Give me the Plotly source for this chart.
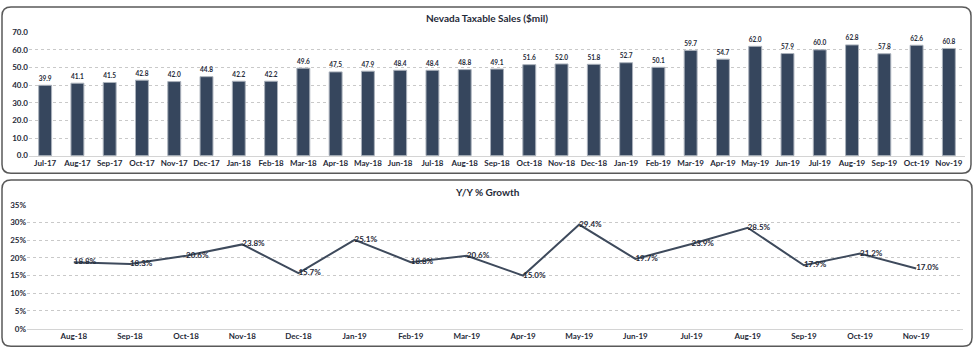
import plotly.graph_objects as go

months = ["Jul-17","Aug-17","Sep-17","Oct-17","Nov-17","Dec-17","Jan-18","Feb-18","Mar-18","Apr-18",
          "May-18","Jun-18","Jul-18","Aug-18","Sep-18","Oct-18","Nov-18","Dec-18","Jan-19","Feb-19",
          "Mar-19","Apr-19","May-19","Jun-19","Jul-19","Aug-19","Sep-19","Oct-19","Nov-19"]
sales = [39.9,41.1,41.5,42.8,42.0,44.8,42.2,42.2,49.6,47.5,47.9,48.4,48.4,48.8,49.1,51.6,52.0,51.8,
         52.7,50.1,59.7,54.7,62.0,57.9,60.0,62.8,57.8,62.6,60.8]

growth_months = ["Aug-18","Sep-18","Oct-18","Nov-18","Dec-18","Jan-19","Feb-19","Mar-19","Apr-19",
                 "May-19","Jun-19","Jul-19","Aug-19","Sep-19","Oct-19","Nov-19"]
growth = [18.8,18.3,20.6,23.8,15.7,25.1,18.8,20.6,15.0,29.4,19.7,23.9,28.5,17.9,21.2,17.0]

sales_ticks = [0,10,20,30,40,50,60,70]
growth_ticks = [0,5,10,15,20,25,30,35]

W, H = 975, 358
FONT = "Lato"
TXT = "#1f2a38"
BAR = "#36465d"
GRID = "#c9c9c9"

fig = go.Figure()
fig.add_trace(go.Bar(
    x=months, y=sales, xaxis="x", yaxis="y",
    marker=dict(color=BAR, line=dict(color="#aab1bb", width=1)),
    text=[f"{v:.1f}" for v in sales], textposition="outside", cliponaxis=False,
    textfont=dict(family=FONT, size=9, color=TXT, weight="bold"),
    hoverinfo="skip", showlegend=False,
))
fig.add_trace(go.Scatter(
    x=growth_months, y=growth, xaxis="x2", yaxis="y2", mode="lines+text",
    line=dict(color="#3e4a5c", width=2),
    text=[f"{v:.1f}%" for v in growth], textposition="middle right",
    textfont=dict(family=FONT, size=8, color=TXT, weight="bold"), cliponaxis=False,
    hoverinfo="skip", showlegend=False,
))

def px(x): return x / W
def py(y): return 1 - y / H

axfont = dict(family=FONT, size=8, color=TXT, weight="bold")
fig.update_layout(
    width=W, height=H, margin=dict(l=0, r=0, t=0, b=0),
    paper_bgcolor="white", plot_bgcolor="white",
    bargap=0.6,
    xaxis=dict(domain=[px(29), px(965)], anchor="y", type="category", showgrid=False,
               showline=True, linecolor="#d4d4d4", linewidth=1, ticks="", tickfont=axfont,
               tickangle=0, fixedrange=True),
    yaxis=dict(domain=[py(155), py(28)], anchor="x", range=[0, 70], tickvals=sales_ticks,
               ticktext=[f"{v:.1f}" for v in sales_ticks], showgrid=True, gridcolor=GRID,
               griddash="dot", gridwidth=1, zeroline=False, showline=False, tickfont=axfont,
               ticks="", fixedrange=True),
    xaxis2=dict(domain=[px(27), px(963)], anchor="y2", type="category", showgrid=False,
                showline=True, linecolor="#d4d4d4", linewidth=1, ticks="", tickfont=axfont,
                tickangle=0, fixedrange=True),
    yaxis2=dict(domain=[py(333), py(205.5)], anchor="x2", range=[0, 35], tickvals=growth_ticks,
                ticktext=[f"{v}%" for v in growth_ticks], showgrid=True, gridcolor=GRID,
                griddash="dot", gridwidth=1, zeroline=False, showline=False, tickfont=axfont,
                ticks="", fixedrange=True),
    annotations=[
        dict(text="<b>Nevada Taxable Sales ($mil)</b>", x=px(487), y=py(13), xref="paper", yref="paper",
             showarrow=False, font=dict(family=FONT, size=10, color=TXT), xanchor="center", yanchor="middle"),
        dict(text="<b>Y/Y % Growth</b>", x=px(487), y=py(192), xref="paper", yref="paper",
             showarrow=False, font=dict(family=FONT, size=10, color=TXT), xanchor="center", yanchor="middle"),
    ],
)

def rounded(x0, y0, x1, y1, r):
    X0, X1 = px(x0), px(x1)
    Y0, Y1 = py(y0), py(y1)
    rx, ry = r / W, r / H
    return (f"M {X0+rx},{Y0} L {X1-rx},{Y0} Q {X1},{Y0} {X1},{Y0-ry} "
            f"L {X1},{Y1+ry} Q {X1},{Y1} {X1-rx},{Y1} L {X0+rx},{Y1} Q {X0},{Y1} {X0},{Y1+ry} "
            f"L {X0},{Y0-ry} Q {X0},{Y0} {X0+rx},{Y0} Z")

fig.update_layout(shapes=[
    dict(type="path", path=rounded(2, 2, 971, 173, 9), xref="paper", yref="paper",
         line=dict(color="#595959", width=1.5), layer="below"),
    dict(type="path", path=rounded(2, 180, 972, 351, 9), xref="paper", yref="paper",
         line=dict(color="#595959", width=1.5), layer="below"),
])

fig.write_html("out.html", config={"displayModeBar": False},
               post_script="document.body.style.margin='0';document.body.style.overflow='hidden';")
